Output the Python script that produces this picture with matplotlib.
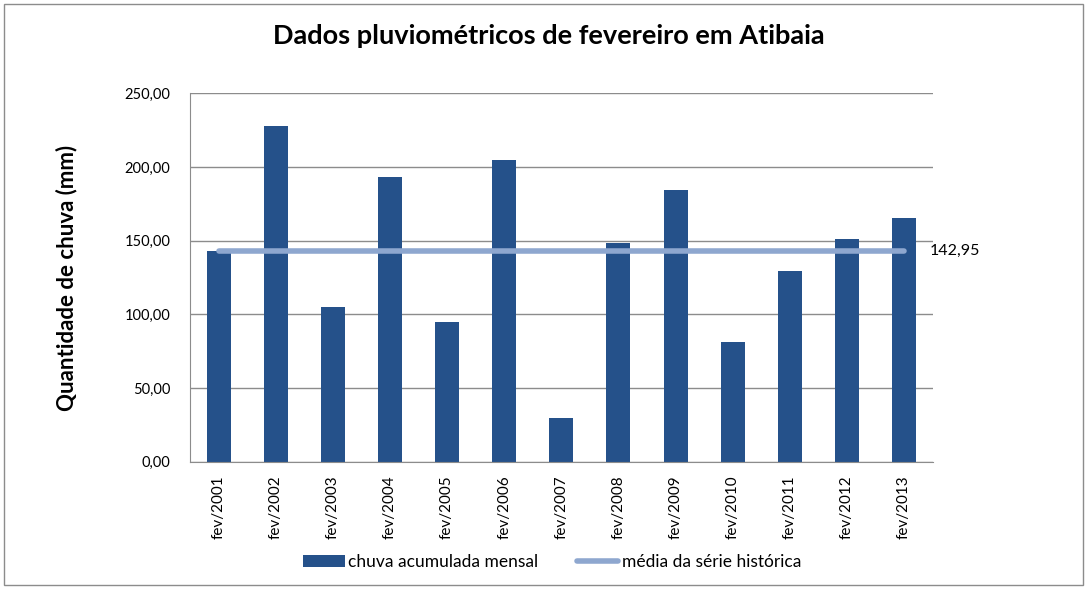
import matplotlib.pyplot as plt
from matplotlib.patches import Rectangle
from matplotlib.ticker import FuncFormatter

# valores (mm)
anos = ["fev/2001", "fev/2002", "fev/2003", "fev/2004", "fev/2005", "fev/2006", "fev/2007",
        "fev/2008", "fev/2009", "fev/2010", "fev/2011", "fev/2012", "fev/2013"]
chuva = [143.0, 227.8, 105.0, 193.2, 94.8, 204.7, 29.7, 148.4, 184.4, 81.2, 129.4, 151.1, 165.4]
media = [142.95] * len(anos)

plt.rcParams['font.family'] = ['Lato', 'DejaVu Sans']

fig = plt.figure(figsize=(10.87, 5.89), dpi=100)
ax = fig.add_axes([0.1748, 0.216, 0.858 - 0.1748, 0.8416 - 0.216])

x = range(len(anos))
barras = ax.bar(x, chuva, width=0.42, color="#25518a", label="chuva acumulada mensal", zorder=2)
linha, = ax.plot(x, media, color="#8ea7cf", linewidth=4, solid_capstyle="round",
                 label="média da série histórica", zorder=3)
ax.text(len(anos) - 1 + 0.45, media[-1], "142,95", fontsize=11.5, va="center", ha="left")

ax.set_xlim(-0.5, len(anos) - 0.5)
ax.set_ylim(0, 250)
ax.set_yticks([0, 50, 100, 150, 200, 250])
ax.yaxis.set_major_formatter(FuncFormatter(lambda v, p: f"{v:.2f}".replace(".", ",")))
ax.set_xticks(list(x))
ax.set_xticklabels(anos, rotation=90, fontsize=11)
ax.tick_params(axis="y", labelsize=10.5, length=0, pad=14)
ax.tick_params(axis="x", length=0, pad=10)
ax.grid(axis="y", color="#8c8c8c", linewidth=1, zorder=0)

for s in ["top", "right"]:
    ax.spines[s].set_visible(False)
ax.spines["left"].set_color("#8c8c8c")
ax.spines["bottom"].set_color("#8c8c8c")

ax.set_ylabel("Quantidade de chuva (mm)", fontsize=16, fontweight="bold", labelpad=34)
fig.suptitle("Dados pluviométricos de fevereiro em Atibaia", fontsize=19.5, fontweight="bold",
             x=0.505, y=0.96)

fig.legend([barras, linha], ["chuva acumulada mensal", "média da série histórica"],
           loc="lower center", bbox_to_anchor=(0.508, 0.005), ncol=2, frameon=False,
           fontsize=12.5, handlelength=2.4, columnspacing=2.2, handletextpad=0.2)

# moldura do gráfico
fig.patches.append(Rectangle((0.004, 0.006), 0.992, 0.988, transform=fig.transFigure,
                             fill=False, edgecolor="#8c8c8c", linewidth=1))

fig.savefig("out.png", dpi=100)
